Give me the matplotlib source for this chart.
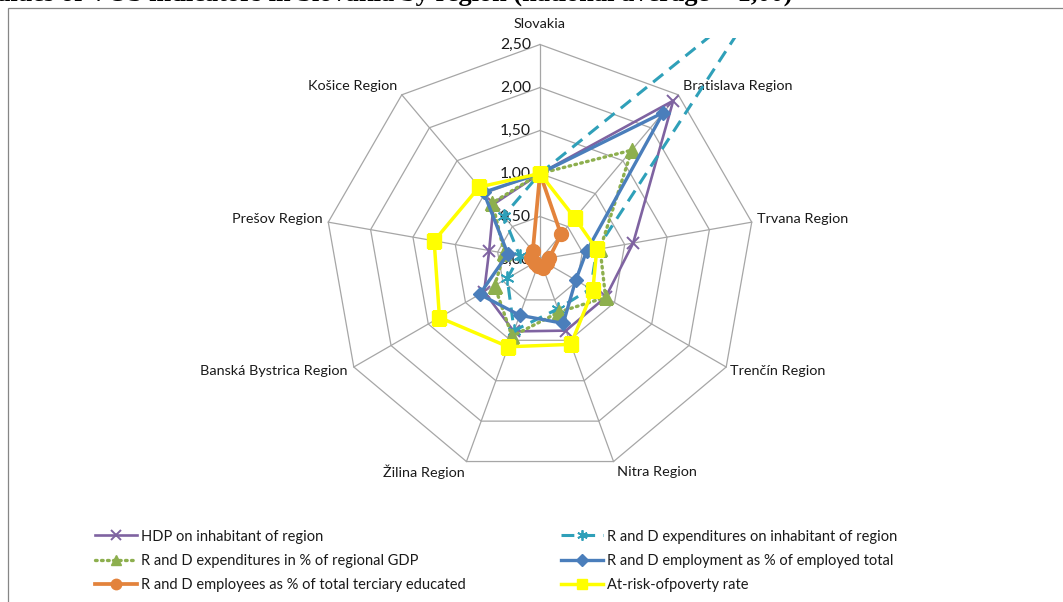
import numpy as np
import matplotlib
matplotlib.use("Agg")
import matplotlib.pyplot as plt
from matplotlib.patches import Rectangle

# ---------------- data ----------------
categories = ["Slovakia", "Bratislava Region", "Trvana Region", "Trenčín Region",
              "Nitra Region", "Žilina Region", "Banská Bystrica Region",
              "Prešov Region", "Košice Region"]

hdp          = [1.00, 2.41, 1.10, 0.88, 0.88, 0.89, 0.75, 0.60, 0.84]
rd_exp_inh   = [1.00, 4.05, 0.67, 0.68, 0.61, 0.88, 0.44, 0.24, 0.66]
rd_exp_gdp   = [1.00, 1.66, 0.71, 0.88, 0.65, 0.95, 0.61, 0.42, 0.86]
rd_empl      = [1.00, 2.23, 0.55, 0.48, 0.79, 0.69, 0.81, 0.38, 1.02]
rd_employees = [1.00, 0.38, 0.11, 0.09, 0.10, 0.08, 0.07, 0.11, 0.13]
poverty      = [1.00, 0.63, 0.67, 0.71, 1.05, 1.08, 1.35, 1.25, 1.10]

series_names = ["HDP on inhabitant of region",
                "R and D expenditures on inhabitant of region",
                "R and D expenditures in % of regional GDP",
                "R and D employment as % of employed total",
                "R and D employees as % of total terciary educated",
                "At-risk-ofpoverty rate"]

tick_values = [0.0, 0.5, 1.0, 1.5, 2.0, 2.5]
tick_labels = ["0,00", "0,50", "1,00", "1,50", "2,00", "2,50"]

# ---------------- figure ----------------
plt.rcParams['font.family'] = ['Lato', 'DejaVu Sans']
W, H = 1063, 602
fig = plt.figure(figsize=(W / 100, H / 100), dpi=100)
fig.patch.set_facecolor('white')

cx, cy, R = 540, 259.5, 215
ax = fig.add_axes([(cx - R) / W, (H - cy - R) / H, 2 * R / W, 2 * R / H],
                  projection='polar')
ax.set_theta_zero_location('N')
ax.set_theta_direction(-1)
ax.set_ylim(0, 2.5)
ax.grid(False)
ax.set_xticks([])
ax.set_yticks([])
ax.spines['polar'].set_visible(False)
ax.patch.set_alpha(0)

n = len(categories)
theta = np.arange(n) * 2 * np.pi / n
theta_c = np.append(theta, theta[0])

def closed(v):
    return list(v) + [v[0]]

grid_col = '#A6A6A6'
for r in tick_values[1:]:
    ax.plot(theta_c, [r] * (n + 1), color=grid_col, lw=0.9, clip_on=False, zorder=1)
for t in theta:
    ax.plot([t, t], [0, tick_values[-1]], color=grid_col, lw=0.9, clip_on=False, zorder=1)

for v, lbl in zip(tick_values, tick_labels):
    ax.annotate(lbl, xy=(0, v), xytext=(-9, 0), textcoords='offset pixels',
                ha='right', va='center', fontsize=11.3, color='#1a1a1a')

# category labels
offsets = [(0, 21, 'center'), (5, 9, 'left'), (5, 3, 'left'), (4, -4, 'left'),
           (3, -10, 'left'), (-2, -10, 'right'), (-6, -4, 'right'),
           (-6, 3, 'right'), (-5, 9, 'right')]
for t, cat, (dx, dy, ha) in zip(theta, categories, offsets):
    ax.annotate(cat, xy=(t, tick_values[-1]), xytext=(dx, dy), textcoords='offset pixels',
                ha=ha, va='center', fontsize=10.4, color='#1a1a1a', annotation_clip=False)

# series
c_purple = '#7F63A1'
c_teal = '#2FA0B9'
c_green = '#8DAF4E'
c_blue = '#4A7EBB'
c_orange = '#E3833C'
c_yellow = '#FFFF00'

l1, = ax.plot(theta_c, closed(hdp), color=c_purple, lw=1.9, marker='x', ms=9, mew=1.4,
              zorder=3, label=series_names[0])
l2, = ax.plot(theta_c, closed(rd_exp_inh), color=c_teal, lw=2.2, dashes=(4.2, 2.6),
              marker=(6, 2, 0), ms=10, mew=1.3, zorder=4, label=series_names[1])
clip_rect = Rectangle((0, 0), 1, 1 - 38 / H, transform=fig.transFigure)
l2.set_clip_path(clip_rect)
l3, = ax.plot(theta_c, closed(rd_exp_gdp), color=c_green, lw=2.4, linestyle=(0, (0.5, 1.3)),
              dash_capstyle='round', marker='^', ms=10, mfc=c_green, mec=c_green,
              zorder=5, label=series_names[2])
l4, = ax.plot(theta_c, closed(rd_empl), color=c_blue, lw=2.4, marker='D', ms=7.5,
              zorder=6, label=series_names[3])
l5, = ax.plot(theta_c, closed(rd_employees), color=c_orange, lw=2.7, marker='o', ms=10,
              zorder=7, label=series_names[4])
l6, = ax.plot(theta_c, closed(poverty), color=c_yellow, lw=2.5, marker='s', ms=10,
              zorder=8, label=series_names[5])

# legends (two columns)
leg_kw = dict(loc='upper left', frameon=False, borderpad=0, borderaxespad=0,
              handlelength=2.9, handletextpad=0.25, labelspacing=0.72,
              fontsize=10.5, numpoints=1, markerscale=0.75)
leg1 = fig.legend([l1, l3, l5], [series_names[0], series_names[2], series_names[4]],
                  bbox_to_anchor=(95 / W, 1 - 529.5 / H), **leg_kw)
leg2 = fig.legend([l2, l4, l6], [series_names[1], series_names[3], series_names[5]],
                  bbox_to_anchor=(561 / W, 1 - 529.5 / H), **leg_kw)
for lg in (leg1, leg2):
    for txt in lg.get_texts():
        txt.set_color('#1a1a1a')

# chart border
fig.add_artist(Rectangle((8 / W, -0.1), 2, 1 - 8 / H + 0.1, transform=fig.transFigure,
                         fill=False, edgecolor='#868686', lw=0.9))

# cut-off caption above the chart (only its lower edge is visible)
fig.text(792 / W, (H - 1) / H,
         "Relative values of VOS indicators in Slovakia by region (national average = 1,00)",
         ha='right', va='baseline', fontsize=19, fontweight='bold',
         family='Liberation Serif', color='black')

fig.savefig('out.png', dpi=100, facecolor='white')
